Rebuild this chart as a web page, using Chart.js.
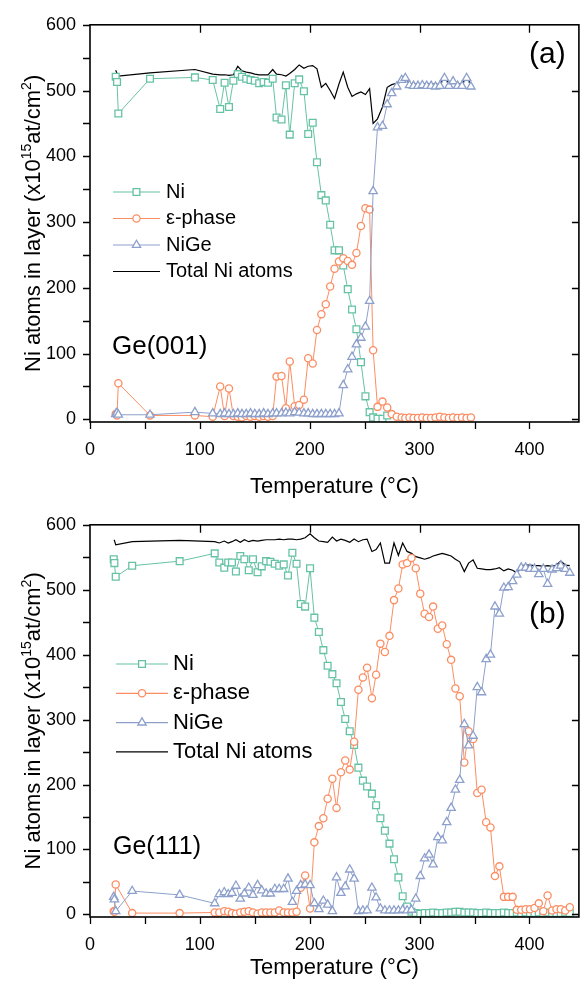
<!DOCTYPE html>
<html>
<head>
<meta charset="utf-8">
<title>Ni atoms in layer vs temperature</title>
<script src="https://cdn.jsdelivr.net/npm/chart.js@4.4.0/dist/chart.umd.min.js"></script>
<style>
  body { margin: 0; background: #fff; }
  canvas { display: block; }
</style>
</head>
<body>
<canvas id="chartA" width="585" height="500"></canvas>
<canvas id="chartB" width="585" height="486"></canvas>
<script>
const FONT = '"Liberation Sans", Arial, Helvetica, sans-serif';

const xTicks = [0, 100, 200, 300, 400];
const yTicks = [0, 100, 200, 300, 400, 500, 600];
const seriesNames = ['Ni', 'ε-phase', 'NiGe', 'Total Ni atoms'];

// Ge(001) panel
const tempA = [23.4, 24.6, 25.8, 54.6, 95.5, 111.7, 118.5, 122.5, 126.5, 130.5,
  134.5, 138.3, 142.2, 146.1, 150, 154, 158, 162, 166.3, 169.8,
  174.3, 178.3, 181.8, 186.3, 190.4, 194.7, 198.6, 202.7, 206.6, 210.6,
  214.6, 218.6, 222.6, 226.6, 230.5, 234.6, 238.5, 242.5, 246.6, 250.7,
  254.5, 257.7, 261.7, 266.2, 270.5, 274.6, 279.2, 283.7, 287, 290.8,
  294.5, 298.5, 302.5, 306.5, 310.5, 314.5, 318.5, 322.6, 326.7, 330.5,
  334.6, 338.6, 342.8, 346.7];
const niA = [521, 513, 465, 518, 520, 516, 472, 512, 475, 515,
  525, 521, 518, 516, 515, 511, 513, 512, 518, 459,
  456, 508, 433, 511, 517, 499, 434, 451, 391, 341,
  333, 296, 257, 257, 234, 198, 167, 137, 87, 35,
  11, 3, 1, 1, 6, null, null, null, null, null,
  null, null, null, null, null, null, null, null, null, null,
  null, null, null, null];
const epsA = [8, 6, 55, 6, 6, 4, 50, 5, 47, 5,
  4, 3, 5, 4, 5, 4, 5, 4, 5, 65,
  66, 17, 88, 20, 22, 30, 93, 85, 136, 160,
  175, 202, 229, 240, 245, 241, 235, 253, 294, 321,
  319, 105, 19, 27, 18, 8, 4, 3, 2, 3,
  2, 2, 3, 2, 2, 3, 4, 3, 2, 3,
  2, 3, 2, 3];
const nigeA = [8, 10, 7, 7, 11, 9, 8, 9, 8, 8,
  9, 8, 8, 9, 8, 8, 9, 8, 9, 9,
  9, 10, 9, 11, 10, 9, 9, 8, 8, 8,
  8, 8, 8, 9, 52, 76, 95, 114, 124, 141,
  180, 347, 444, 446, 479, 496, 506, 516, 519, 508,
  507, 507, 508, 507, 507, 506, 507, 519, 507, 514,
  507, 507, 519, 506];
const totalA = [531, 526, 522, 527, 532, 525, 524, 524, 523, 524,
  537, 530, 528, 527, 525, 524, 524, 524, 532, 525,
  524, 522, 526, 532, 539, 534, 537, 538, 533, 505,
  511, 500, 488, 510, 528, 505, 491, 495, 498, 494,
  503, 450, 457, 475, 505, 509, 511, 518, 518, 511,
  510, 510, 510, 511, 510, 510, 509, 519, 511, 514,
  511, 510, 519, 510];

// Ge(111) panel
const tempB = [21.6, 22.2, 23.4, 38.4, 81.6, 113.5, 117.7, 122.2, 125.8, 129.2,
  132.8, 136.8, 140.5, 144.5, 148.3, 152.5, 156.3, 160.3, 164.2, 168.2,
  172.2, 176.3, 180.2, 184.2, 188, 191.8, 195.8, 200.3, 204.2, 208.3,
  212.4, 216.3, 220.6, 224.4, 228.4, 232.3, 236.4, 240.4, 244.3, 248.4,
  252.2, 256.6, 260.4, 264.3, 268.4, 272.6, 276.7, 280.7, 284.6, 288.6,
  292.6, 296.5, 300.6, 304.6, 308.6, 312.3, 316.6, 320.6, 324.7, 328.7,
  332.6, 336.5, 340.7, 344.6, 348.7, 352.5, 356.4, 360.6, 364.5, 368.6,
  372.6, 376.7, 380.6, 384.7, 388.5, 392.5, 396.5, 400.5, 404.6, 408.5,
  412.6, 416.5, 420.6, 424.6, 428.5, 432.6, 436.7];
const niB = [547, 541, 520, 537, 544, 556, 542, 534, 542, 542,
  528, 552, 547, 530, 547, 527, 536, 544, 543, 540,
  537, 539, 522, 557, 540, 478, 474, 533, 457, 435,
  407, 383, 370, 356, 327, 301, 282, 261, 226, 206,
  197, 186, 168, 148, 129, 109, 85, 57, 28, 12,
  4, 2, 1, 2, 2, 3, 2, 2, 3, 3,
  4, 4, 3, 3, 3, 2, 2, 3, 2, 2,
  2, 3, 2, 2, 3, 2, 3, 2, 2, 3,
  2, 3, 2, 2, 2, 3, 2];
const epsB = [5, 4, 46, 2, 2, 3, 3, 5, 4, 2,
  1, 3, 4, 5, 3, 1, 3, 3, 3, 3,
  6, 3, 3, 3, 4, 41, 60, 9, 111, 136,
  148, 178, 209, 164, 219, 237, 223, 266, 346, 365,
  380, 333, 369, 417, 404, 429, 484, 502, 539, 541,
  549, 533, 494, 463, 458, 474, 440, 445, 416, 392,
  348, 336, 234, 282, 270, 187, 192, 142, 134, 59,
  74, 27, 27, 27, 7, 7, 8, 8, 10, 17,
  5, 29, 6, 8, 8, 6, 11];
const nigeB = [27, 23, 5, 36, 30, 17, 31, 34, 31, 33,
  44, 24, 32, 41, 30, 45, 37, 32, 32, 39,
  39, 39, 55, 19, 36, 45, 46, 45, 17, 8,
  21, 15, 5, 57, 33, 43, 69, 55, 5, 6,
  6, 41, 26, 9, 6, 6, 6, 6, 7, 6,
  7, 24, 59, 86, 92, 77, 119, 114, 142, 164,
  192, 207, 293, 260, 275, 350, 342, 393, 400, 474,
  463, 503, 504, 513, 523, 534, 534, 532, 532, 524,
  532, 509, 531, 533, 537, 532, 526];
const totalB = [576, 576, 569, 574, 576, 574, 572, 575, 572, 574,
  577, 573, 577, 574, 576, 575, 576, 577, 577, 577,
  578, 577, 578, 578, 577, 578, 580, 586, 580, 575,
  574, 573, 581, 575, 578, 576, 573, 578, 574, 577,
  578, 559, 562, 572, 541, 541, 572, 553, 572, 559,
  556, 551, 549, 547, 549, 552, 554, 556, 554, 552,
  547, 543, 528, 541, 546, 533, 532, 531, 531, 532,
  534, 529, 532, 530, 526, 537, 538, 538, 537, 537,
  536, 537, 536, 538, 544, 538, 537];

const colors = ['#66c2a5', '#fc8d62', '#8da0cb', '#000000'];
const markers = ['rect', 'circle', 'triangle', false];
const markerSize = [4.8, 3.6, 4.8, 0];

function points(temps, vals) {
  return temps.map((t, i) => ({ x: t, y: vals[i] }));
}

function drawMarker(ctx, style, x, y, r) {
  ctx.beginPath();
  if (style === 'rect') {
    const s = r * Math.SQRT1_2;
    ctx.rect(x - s, y - s, 2 * s, 2 * s);
  } else if (style === 'circle') {
    ctx.arc(x, y, r, 0, Math.PI * 2);
  } else if (style === 'triangle') {
    ctx.moveTo(x, y - r);
    ctx.lineTo(x + r * Math.sin(Math.PI * 2 / 3), y + r * 0.5);
    ctx.lineTo(x - r * Math.sin(Math.PI * 2 / 3), y + r * 0.5);
    ctx.closePath();
  }
  ctx.fill();
  ctx.stroke();
}

function drawYTitle(ctx, bx, cy) {
  const parts = [['Ni atoms in layer (x10', 0], ['15', 1], ['at/cm', 0], ['2', 1], [')', 0]];
  const big = '22px ' + FONT, small = '14px ' + FONT;
  let w = 0;
  parts.forEach(p => { ctx.font = p[1] ? small : big; w += ctx.measureText(p[0]).width; });
  ctx.save();
  ctx.translate(bx, cy);
  ctx.rotate(-Math.PI / 2);
  ctx.fillStyle = '#000';
  ctx.textAlign = 'left';
  ctx.textBaseline = 'alphabetic';
  let cx = -w / 2;
  parts.forEach(p => {
    ctx.font = p[1] ? small : big;
    ctx.fillText(p[0], cx, p[1] ? -9 : 0);
    cx += ctx.measureText(p[0]).width;
  });
  ctx.restore();
}

// frame, ticks, legend and panel labels
const decor = {
  id: 'decor',
  afterDraw(chart, args, o) {
    const ctx = chart.ctx, a = chart.chartArea;
    const x = chart.scales.x, y = chart.scales.y;
    ctx.save();
    ctx.strokeStyle = '#000';
    ctx.lineWidth = 1.3;
    ctx.beginPath();
    for (let v = 0; v <= 600; v += 50) {
      const py = Math.round(y.getPixelForValue(v)) + 0.5;
      ctx.moveTo(a.left, py); ctx.lineTo(a.left - 7, py);
      if (v % 100 === 0 && v < 600) { ctx.moveTo(a.right, py); ctx.lineTo(a.right - 7, py); }
    }
    for (let v = 0; v <= 440; v += 50) {
      const px = Math.round(x.getPixelForValue(v)) + 0.5;
      ctx.moveTo(px, a.bottom); ctx.lineTo(px, a.bottom + 7);
      if (v % 100 === 0 && v > 0) { ctx.moveTo(px, a.top); ctx.lineTo(px, a.top + 8); }
    }
    ctx.stroke();
    ctx.lineWidth = 1.6;
    ctx.strokeRect(a.left, a.top, a.right - a.left, a.bottom - a.top);

    drawYTitle(ctx, 40, (a.top + a.bottom) / 2);

    // legend
    const L = o.legend;
    ctx.font = L.size + 'px ' + FONT;
    ctx.textBaseline = 'middle';
    ctx.textAlign = 'left';
    chart.data.datasets.forEach((ds, i) => {
      const ly = L.y + i * L.gap;
      ctx.strokeStyle = ds.borderColor;
      ctx.lineWidth = 1.2;
      ctx.beginPath();
      ctx.moveTo(L.x0, ly); ctx.lineTo(L.x1, ly);
      ctx.stroke();
      if (ds.pointStyle) {
        ctx.fillStyle = '#fff';
        ctx.lineWidth = 1.3;
        drawMarker(ctx, ds.pointStyle, (L.x0 + L.x1) / 2, ly, ds.pointRadius);
      }
      ctx.fillStyle = '#000';
      ctx.fillText(ds.label, L.tx, ly);
    });

    ctx.fillStyle = '#000';
    ctx.font = o.sub.size + 'px ' + FONT;
    ctx.fillText(o.sub.text, o.sub.x, o.sub.y);
    ctx.font = '30px ' + FONT;
    ctx.fillText(o.tag.text, o.tag.x, o.tag.y);
    ctx.restore();
  }
};

function makeChart(id, temps, ni, eps, nige, total, cfg) {
  const vals = [ni, eps, nige, total];
  const datasets = vals.map((v, i) => ({
    label: seriesNames[i],
    data: points(temps, v),
    borderColor: colors[i],
    backgroundColor: colors[i],
    borderWidth: i === 3 ? 1.2 : 1,
    pointStyle: markers[i],
    pointRadius: markerSize[i],
    pointBorderWidth: 1.3,
    pointBorderColor: colors[i],
    pointBackgroundColor: '#fff',
    spanGaps: true,
    tension: 0,
    order: i === 3 ? 4 : 3 - i
  }));
  return new Chart(document.getElementById(id), {
    type: 'scatter',
    data: { datasets },
    options: {
      responsive: false,
      animation: false,
      devicePixelRatio: 1,
      showLine: true,
      layout: { padding: { top: cfg.top, right: 1, left: 0, bottom: 0 } },
      plugins: {
        legend: { display: false },
        tooltip: { enabled: false },
        decor: cfg.decor
      },
      scales: {
        x: {
          type: 'linear', min: 0, max: 445,
          afterBuildTicks: s => { s.ticks = xTicks.map(v => ({ value: v })); },
          afterFit: s => { s.height = cfg.xHeight; },
          grid: { display: false, drawTicks: false },
          border: { display: false },
          ticks: { color: '#000', font: { family: FONT, size: 18 }, padding: 17, maxRotation: 0 },
          title: { display: true, text: 'Temperature (°C)', color: '#000',
                   font: { family: FONT, size: 22 }, padding: { top: 0, bottom: cfg.titlePad } }
        },
        y: {
          type: 'linear', min: -4, max: 600,
          afterBuildTicks: s => { s.ticks = yTicks.map(v => ({ value: v })); },
          afterFit: s => { s.width = 90; },
          grid: { display: false, drawTicks: false },
          border: { display: false },
          ticks: { color: '#000', font: { family: FONT, size: 18 }, padding: 14 }
        }
      }
    },
    plugins: [decor]
  });
}

makeChart('chartA', tempA, niA, epsA, nigeA, totalA, {
  top: 20, xHeight: 78, titlePad: 0,
  decor: {
    legend: { x0: 113, x1: 160, tx: 166, y: 192, gap: 26.5, size: 20 },
    sub: { text: 'Ge(001)', x: 112, y: 347, size: 26 },
    tag: { text: '(a)', x: 529, y: 55 }
  }
});

makeChart('chartB', tempB, niB, epsB, nigeB, totalB, {
  top: 15, xHeight: 69, titlePad: 5,
  decor: {
    legend: { x0: 116, x1: 168, tx: 173, y: 164, gap: 29.3, size: 22 },
    sub: { text: 'Ge(111)', x: 113, y: 347, size: 25 },
    tag: { text: '(b)', x: 529, y: 115 }
  }
});
</script>
</body>
</html>
